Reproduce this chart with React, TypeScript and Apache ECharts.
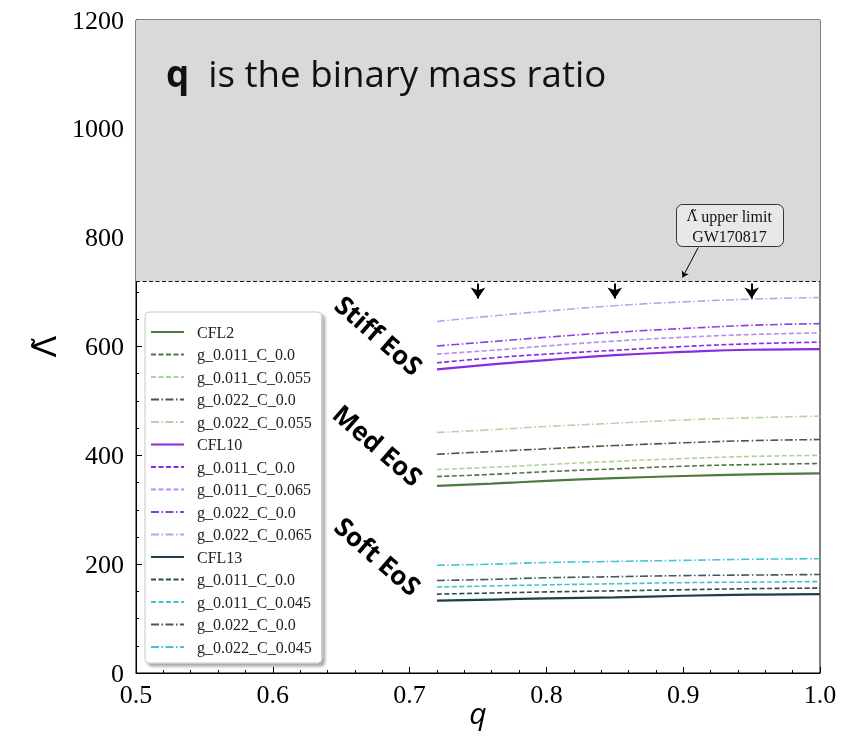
import React, { useEffect, useRef } from "react";
import * as echarts from "echarts";

// q grid at which curves were read
const qValues = [0.72, 0.76, 0.8, 0.85, 0.9, 0.95, 1.0];

// Med EoS (CFL2)
const cfl2 = [344, 348, 353, 358, 362, 365, 367];
const cfl2_g011_c0 = [361, 365, 370, 375, 380, 383, 385];
const cfl2_g011_c055 = [374, 378, 383, 389, 394, 398, 400];
const cfl2_g022_c0 = [402, 407, 412, 418, 423, 427, 429];
const cfl2_g022_c055 = [442, 447, 453, 459, 465, 469, 472];

// Stiff EoS (CFL10)
const cfl10 = [558, 567, 575, 584, 590, 594, 595];
const cfl10_g011_c0 = [570, 579, 586, 593, 600, 605, 608];
const cfl10_g011_c065 = [586, 593, 601, 610, 617, 622, 625];
const cfl10_g022_c0 = [601, 609, 617, 626, 633, 639, 642];
const cfl10_g022_c065 = [646, 656, 665, 675, 682, 687, 690];

// Soft EoS (CFL13)
const cfl13 = [133, 135, 137, 139, 142, 144, 145];
const cfl13_g011_c0 = [145, 147, 149, 151, 153, 155, 156];
const cfl13_g011_c045 = [158, 160, 162, 164, 166, 167, 168];
const cfl13_g022_c0 = [170, 172, 175, 177, 179, 180, 181];
const cfl13_g022_c045 = [198, 200, 203, 205, 207, 209, 210];

const upperLimit = 720;
const arrowQs = [0.75, 0.85, 0.95];

const xTicks = { min: 0.5, max: 1.0, interval: 0.1 };
const yTicks = { min: 0, max: 1200, interval: 200 };

type Spec = { name: string; data: number[]; color: string; kind: "solid" | "dash" | "dashdot" };

const specs: Spec[] = [
  { name: "CFL2", data: cfl2, color: "#4a7a3f", kind: "solid" },
  { name: "CFL2|g_0.011_C_0.0", data: cfl2_g011_c0, color: "#4f7348", kind: "dash" },
  { name: "CFL2|g_0.011_C_0.055", data: cfl2_g011_c055, color: "#a9d39b", kind: "dash" },
  { name: "CFL2|g_0.022_C_0.0", data: cfl2_g022_c0, color: "#3f5f38", kind: "dashdot" },
  { name: "CFL2|g_0.022_C_0.055", data: cfl2_g022_c055, color: "#b3d6a6", kind: "dashdot" },
  { name: "CFL10", data: cfl10, color: "#8a2be2", kind: "solid" },
  { name: "CFL10|g_0.011_C_0.0", data: cfl10_g011_c0, color: "#8a2be2", kind: "dash" },
  { name: "CFL10|g_0.011_C_0.065", data: cfl10_g011_c065, color: "#b98cf0", kind: "dash" },
  { name: "CFL10|g_0.022_C_0.0", data: cfl10_g022_c0, color: "#8f3be6", kind: "dashdot" },
  { name: "CFL10|g_0.022_C_0.065", data: cfl10_g022_c065, color: "#c29ef2", kind: "dashdot" },
  { name: "CFL13", data: cfl13, color: "#1c3f4a", kind: "solid" },
  { name: "CFL13|g_0.011_C_0.0", data: cfl13_g011_c0, color: "#2c4a52", kind: "dash" },
  { name: "CFL13|g_0.011_C_0.045", data: cfl13_g011_c045, color: "#3fc1d9", kind: "dash" },
  { name: "CFL13|g_0.022_C_0.0", data: cfl13_g022_c0, color: "#3e5a62", kind: "dashdot" },
  { name: "CFL13|g_0.022_C_0.045", data: cfl13_g022_c045, color: "#44c3da", kind: "dashdot" },
];

const dashOf = (k: Spec["kind"]): any =>
  k === "solid" ? "solid" : k === "dash" ? [5, 2.5] : [8, 2.5, 1.5, 2.5];

export default function App() {
  const ref = useRef<HTMLDivElement>(null);
  useEffect(() => {
    if (!ref.current) return;
    const chart = echarts.init(ref.current, undefined, { renderer: "svg" });

    const lineSeries = specs.map((s) => ({
      name: s.name,
      type: "line",
      smooth: true,
      symbol: "none",
      showSymbol: false,
      z: 3,
      data: qValues.map((q, i) => [q, s.data[i]]),
      lineStyle: { color: s.color, width: s.kind === "solid" ? 2.2 : 1.6, type: dashOf(s.kind) },
      itemStyle: { color: s.color },
    }));

    const annotSeries = {
      name: "_annot",
      type: "line",
      data: [],
      z: 1,
      markArea: {
        silent: true,
        itemStyle: { color: "#d9d9d9" },
        data: [[{ yAxis: upperLimit }, { yAxis: yTicks.max }]],
      },
      markLine: {
        silent: true,
        symbol: "none",
        label: { show: false },
        lineStyle: { color: "#111", type: [4, 2.5], width: 1 },
        data: [{ yAxis: upperLimit }],
      },
    };

    const arrowSeries = {
      name: "_arrows",
      type: "line",
      data: [],
      z: 4,
      markLine: {
        silent: true,
        symbol: ["none", "arrow"],
        symbolSize: 11,
        label: { show: false },
        lineStyle: { color: "#000", type: "solid", width: 2 },
        data: [
          ...arrowQs.map((q) => [{ coord: [q, 716] }, { coord: [q, 688] }]),
          [
            { coord: [0.911, 782], lineStyle: { width: 1 } },
            { coord: [0.8995, 727], symbolSize: 6 },
          ],
        ],
      },
    };

    const option: any = {
      animation: false,
      grid: { left: 136, right: 21, top: 20, bottom: 73, show: true, borderColor: "#000", borderWidth: 1 },
      xAxis: {
        type: "value",
        min: xTicks.min,
        max: xTicks.max,
        interval: xTicks.interval,
        name: "q",
        nameLocation: "middle",
        nameGap: 24,
        nameMoveOverlap: false,
        nameTextStyle: { fontFamily: "Open Sans", fontStyle: "italic", fontSize: 30, color: "#000" },
        axisLine: { lineStyle: { color: "#000" } },
        axisTick: { inside: true, length: 6, lineStyle: { color: "#000" } },
        minorTick: { show: true, splitNumber: 5, length: 3, lineStyle: { color: "#000" } },
        splitLine: { show: false },
        axisLabel: {
          fontFamily: "Liberation Serif",
          fontSize: 26,
          color: "#000",
          margin: 8,
          formatter: (v: number) => v.toFixed(1),
        },
      },
      yAxis: {
        type: "value",
        min: yTicks.min,
        max: yTicks.max,
        interval: yTicks.interval,
        name: "Λ̃",
        nameLocation: "middle",
        nameRotate: 90,
        nameGap: 73,
        nameTextStyle: { fontFamily: "DejaVu Sans", fontSize: 32, color: "#000" },
        axisLine: { show: true, lineStyle: { color: "#000" } },
        axisTick: { inside: true, length: 6, lineStyle: { color: "#000" } },
        minorTick: { show: true, splitNumber: 4, length: 3, lineStyle: { color: "#000" } },
        splitLine: { show: false },
        axisLabel: {
          fontFamily: "Liberation Serif",
          fontSize: 26,
          color: "#000",
          margin: 12,
          formatter: (v: number) => String(v),
        },
      },
      legend: {
        show: true,
        orient: "vertical",
        left: 145,
        top: 312,
        padding: [12, 10, 8, 5],
        itemWidth: 33,
        itemHeight: 14,
        itemGap: 6.5,
        backgroundColor: "#fff",
        borderColor: "#c8c8c8",
        borderWidth: 1,
        borderRadius: 4,
        shadowColor: "rgba(0,0,0,0.35)",
        shadowBlur: 3,
        shadowOffsetX: 3,
        shadowOffsetY: 3,
        itemStyle: { opacity: 0, borderWidth: 0 },
        data: specs.map((s) => s.name),
        formatter: (n: string) => (n.indexOf("|") >= 0 ? n.split("|")[1] : n),
        textStyle: {
          fontFamily: "Liberation Serif",
          fontSize: 16,
          color: "#222",
          padding: [0, 0, 0, 8],
        },
      },
      graphic: [
        {
          type: "text",
          left: 166,
          top: 54,
          style: {
            text: "{b|q}  is the binary mass ratio",
            rich: { b: { fontWeight: "bold", fontFamily: "Open Sans", fontSize: 36.7, fill: "#111" } },
            fontFamily: "Open Sans",
            fontSize: 36.7,
            fill: "#111",
          },
          z: 10,
        },
        {
          type: "text",
          x: 379,
          y: 335,
          rotation: (-41 * Math.PI) / 180,
          style: { text: "Stiff EoS", fontFamily: "Open Sans", fontWeight: "bold", fontSize: 26, fill: "#000", align: "center", verticalAlign: "middle" },
          z: 10,
        },
        {
          type: "text",
          x: 378,
          y: 445,
          rotation: (-41 * Math.PI) / 180,
          style: { text: "Med EoS", fontFamily: "Open Sans", fontWeight: "bold", fontSize: 26, fill: "#000", align: "center", verticalAlign: "middle" },
          z: 10,
        },
        {
          type: "text",
          x: 378,
          y: 556,
          rotation: (-41 * Math.PI) / 180,
          style: { text: "Soft EoS", fontFamily: "Open Sans", fontWeight: "bold", fontSize: 26, fill: "#000", align: "center", verticalAlign: "middle" },
          z: 10,
        },
        {
          type: "rect",
          shape: { x: 676.5, y: 204.5, width: 107, height: 42, r: 6 },
          style: { fill: "#e8e8e8", stroke: "#333", lineWidth: 1 },
          z: 10,
        },
        {
          type: "text",
          x: 729.5,
          y: 216,
          style: {
            text: "{l|Λ̃} upper limit",
            rich: { l: { fontFamily: "DejaVu Serif", fontSize: 14, fill: "#111" } },
            fontFamily: "Liberation Serif",
            fontSize: 16,
            fill: "#111",
            align: "center",
            verticalAlign: "middle",
          },
          z: 11,
        },
        {
          type: "text",
          x: 729.5,
          y: 236,
          style: {
            text: "GW170817",
            fontFamily: "Liberation Serif",
            fontSize: 16,
            fill: "#111",
            align: "center",
            verticalAlign: "middle",
          },
          z: 11,
        },
      ],
      series: [annotSeries, ...lineSeries, arrowSeries],
    };

    chart.setOption(option);
    return () => chart.dispose();
  }, []);

  return <div ref={ref} style={{ position: "fixed", left: 0, top: 0, width: 841, height: 746 }} />;
}
